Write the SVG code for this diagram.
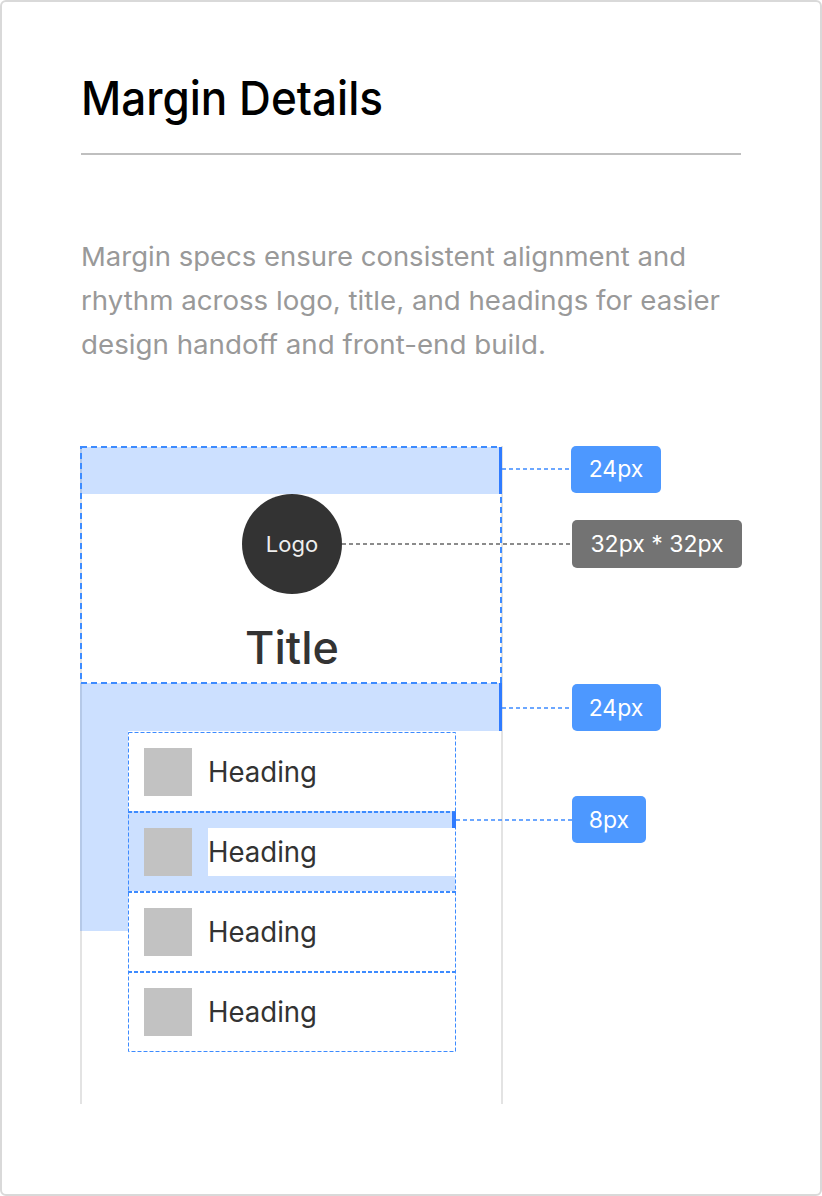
<svg xmlns="http://www.w3.org/2000/svg" width="822" height="1196" viewBox="0 0 822 1196">
  <style>
    .sans { font-family: "Inter", "Liberation Sans", "Noto Sans", sans-serif; }
    .guide { stroke: #e3e3e3; stroke-width: 2; fill: none; }
    .margin { fill: #0066ff; fill-opacity: 0.2; }
    .frame { fill: none; stroke: #3d8bff; stroke-width: 2; stroke-dasharray: 6 4; }
    .row { fill: none; stroke: #3d8bff; stroke-width: 1; stroke-dasharray: 4 2; }
    .sep { stroke: #3d8bff; stroke-width: 2; stroke-dasharray: 4 2; }
    .bar { fill: #2f7bff; }
    .lead-blue { stroke: #3d8bff; stroke-width: 1.5; stroke-dasharray: 4 3; fill: none; }
    .lead-gray { stroke: #666666; stroke-width: 1.5; stroke-dasharray: 4 3; fill: none; }
    .tag-blue { fill: #4d98ff; }
    .tag-gray { fill: #737373; }
    .tag-text { fill: #ffffff; font-size: 23px; text-anchor: middle; }
    .thumb { fill: #c2c2c2; }
    .heading { fill: #333333; font-size: 28px; }
    .para { fill: #999999; font-size: 26px; }
  </style>

  <!-- card -->
  <rect x="1" y="1" width="820" height="1194" rx="5" fill="#ffffff" stroke="#d9d9d9" stroke-width="2"/>

  <!-- header -->
  <text class="sans" x="81" y="115" font-size="47" font-weight="500" fill="#000000" textLength="302" lengthAdjust="spacingAndGlyphs">Margin Details</text>
  <line x1="81" y1="154" x2="741" y2="154" stroke="#bfbfbf" stroke-width="2"/>

  <g class="sans para">
    <text x="81" y="266" textLength="605" lengthAdjust="spacingAndGlyphs">Margin specs ensure consistent alignment and</text>
    <text x="81" y="310" textLength="639" lengthAdjust="spacingAndGlyphs">rhythm across logo, title, and headings for easier</text>
    <text x="81" y="354" textLength="465" lengthAdjust="spacingAndGlyphs">design handoff and front-end build.</text>
  </g>

  <!-- page column guides -->
  <line class="guide" x1="81" y1="446" x2="81" y2="1104"/>
  <line class="guide" x1="502" y1="446" x2="502" y2="1104"/>

  <!-- margin areas -->
  <g id="margins">
    <rect class="margin" x="80" y="447" width="421" height="47"/>
    <rect class="margin" x="80" y="683" width="421" height="48"/>
    <rect class="margin" x="80" y="731" width="48" height="200"/>
    <path class="margin" d="M128 811 H455 V891 H128 Z M208 828 V876 H455 V828 Z" fill-rule="evenodd"/>
  </g>

  <!-- header block: logo and title -->
  <g id="header-block">
    <rect class="frame" x="81" y="447" width="420" height="236"/>
    <circle cx="292" cy="544" r="50" fill="#333333"/>
    <text class="sans" x="292" y="552" font-size="22" fill="#eeeeee" text-anchor="middle">Logo</text>
    <text class="sans" x="292" y="664" font-size="45" font-weight="500" fill="#333333" text-anchor="middle">Title</text>
  </g>

  <!-- heading list -->
  <g id="heading-list">
    <rect class="row" x="128.5" y="732.5" width="327" height="319"/>
    <line class="sep" x1="128" y1="812" x2="456" y2="812"/>
    <line class="sep" x1="128" y1="892" x2="456" y2="892"/>
    <line class="sep" x1="128" y1="972" x2="456" y2="972"/>
  </g>
  <g id="heading-1">
    <rect class="thumb" x="144" y="748" width="48" height="48"/>
    <text class="sans heading" x="208" y="782" textLength="109" lengthAdjust="spacingAndGlyphs">Heading</text>
  </g>
  <g id="heading-2">
    <rect class="thumb" x="144" y="828" width="48" height="48"/>
    <text class="sans heading" x="208" y="862" textLength="109" lengthAdjust="spacingAndGlyphs">Heading</text>
  </g>
  <g id="heading-3">
    <rect class="thumb" x="144" y="908" width="48" height="48"/>
    <text class="sans heading" x="208" y="942" textLength="109" lengthAdjust="spacingAndGlyphs">Heading</text>
  </g>
  <g id="heading-4">
    <rect class="thumb" x="144" y="988" width="48" height="48"/>
    <text class="sans heading" x="208" y="1022" textLength="109" lengthAdjust="spacingAndGlyphs">Heading</text>
  </g>

  <!-- measurement markers -->
  <g id="markers">
    <rect class="bar" x="499" y="447" width="3" height="47"/>
    <rect class="bar" x="499" y="683" width="3" height="48"/>
    <rect class="bar" x="452" y="812" width="4" height="16"/>
  </g>

  <!-- leader lines -->
  <g id="connectors">
    <line class="lead-blue" x1="502" y1="469" x2="571" y2="469"/>
    <line class="lead-gray" x1="342" y1="544" x2="572" y2="544"/>
    <line class="lead-blue" x1="502" y1="708" x2="572" y2="708"/>
    <line class="lead-blue" x1="456" y1="820" x2="572" y2="820"/>
  </g>

  <!-- dimension tags -->
  <g id="tag-top">
    <rect class="tag-blue" x="571" y="446" width="90" height="47" rx="5"/>
    <text class="sans tag-text" x="616" y="477">24px</text>
  </g>
  <g id="tag-logo">
    <rect class="tag-gray" x="572" y="520" width="170" height="48" rx="5"/>
    <text class="sans tag-text" x="657" y="552">32px * 32px</text>
  </g>
  <g id="tag-bottom">
    <rect class="tag-blue" x="572" y="684" width="89" height="47" rx="5"/>
    <text class="sans tag-text" x="616" y="716">24px</text>
  </g>
  <g id="tag-row">
    <rect class="tag-blue" x="572" y="796" width="74" height="47" rx="5"/>
    <text class="sans tag-text" x="609" y="828">8px</text>
  </g>
</svg>
